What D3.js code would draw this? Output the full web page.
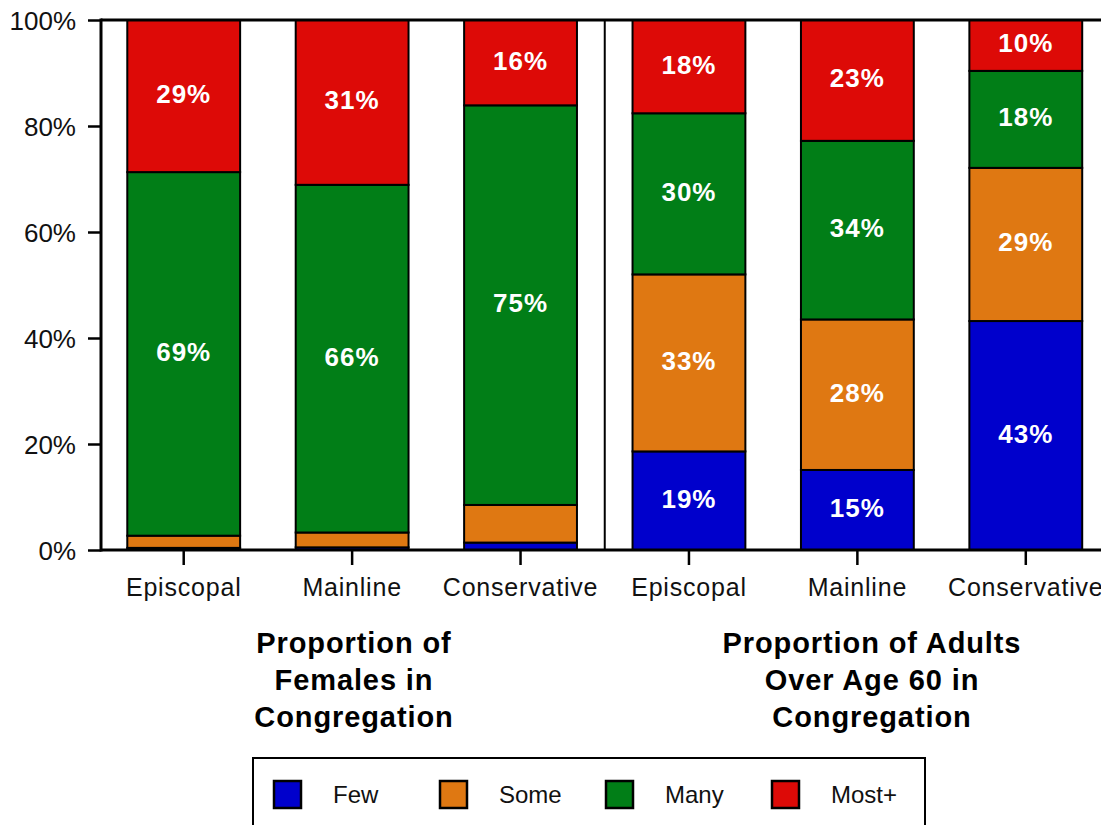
<!DOCTYPE html>
<html>
<head>
<meta charset="utf-8">
<script src="https://cdn.jsdelivr.net/npm/d3@7"></script>
<style>
  html, body { margin: 0; padding: 0; background: #fff; }
  svg { display: block; font-family: "Liberation Sans", Arial, sans-serif; }
</style>
</head>
<body>
<svg id="chart" width="1101" height="825"></svg>
<script>
// ---- data ----
const categories = ["Episcopal", "Mainline", "Conservative", "Episcopal", "Mainline", "Conservative"];
const groupTitles = [
  ["Proportion of", "Females in", "Congregation"],
  ["Proportion of Adults", "Over Age 60 in", "Congregation"]
];
const seriesNames = ["Few", "Some", "Many", "Most+"];
const seriesColors = ["#0000cc", "#df7812", "#017e17", "#dd0a07"];
const few  = [0.4, 0.5, 1.4, 18.6, 15.1, 43.2];
const some = [2.3, 2.8, 7.1, 33.4, 28.4, 28.9];
const many = [68.6, 65.6, 75.4, 30.4, 33.7, 18.3];
const most = [28.7, 31.1, 16.1, 17.6, 22.8, 9.6];
const yTicks = [0, 20, 40, 60, 80, 100];

// ---- setup ----
const svg = d3.select("#chart");
const W = 1101, H = 825;
const axisX = 101, plotTop = 20, plotBottom = 550;

const keys = categories.map((c, i) => String(i));
const x = d3.scaleBand().domain(keys).range([99.5, 1110]).paddingInner(0.33).paddingOuter(0.165);
const y = d3.scaleLinear().domain([0, 100]).range([plotBottom, plotTop]);

const rows = keys.map((k, i) => ({ key: k, Few: few[i], Some: some[i], Many: many[i], "Most+": most[i] }));
const stacked = d3.stack().keys(seriesNames)(rows);

// bars
const layers = svg.append("g").selectAll("g").data(stacked).join("g")
  .attr("fill", (d, i) => seriesColors[i]);
layers.selectAll("rect").data(d => d).join("rect")
  .attr("x", d => x(d.data.key))
  .attr("width", x.bandwidth())
  .attr("y", d => y(d[1]))
  .attr("height", d => y(d[0]) - y(d[1]))
  .attr("stroke", "#000")
  .attr("stroke-width", 2);

// value labels
layers.selectAll("text").data(d => d.filter(s => s[1] - s[0] > 9)).join("text")
  .attr("x", d => x(d.data.key) + x.bandwidth() / 2)
  .attr("y", d => y((d[0] + d[1]) / 2) + 7)
  .attr("text-anchor", "middle")
  .attr("fill", "#fff")
  .attr("font-weight", "bold")
  .attr("font-size", 26)
  .attr("letter-spacing", 1)
  .text(d => Math.round(d[1] - d[0]) + "%");

// separator between groups
const sepX = (x(keys[2]) + x.bandwidth() + x(keys[3])) / 2;
svg.append("line").attr("x1", sepX).attr("x2", sepX).attr("y1", plotTop).attr("y2", plotBottom)
  .attr("stroke", "#000").attr("stroke-width", 2);

// top frame line
svg.append("line").attr("x1", axisX).attr("x2", W).attr("y1", plotTop).attr("y2", plotTop)
  .attr("stroke", "#000").attr("stroke-width", 3);

// y axis
const yAxis = svg.append("g").attr("transform", `translate(${axisX},0)`)
  .call(d3.axisLeft(y).tickValues(yTicks).tickSize(13).tickPadding(12).tickFormat(d => d + "%"));
yAxis.select(".domain").attr("stroke", "#000").attr("stroke-width", 3).attr("d", `M0,${plotTop - 1.5}V${plotBottom + 1.5}`);
yAxis.selectAll(".tick line").attr("stroke", "#000").attr("stroke-width", 2.5);
yAxis.selectAll(".tick text").attr("font-size", 26).attr("fill", "#111")
  .attr("font-family", "Liberation Sans, Arial, sans-serif").attr("dy", "0.36em");

// x axis
const xAxis = svg.append("g").attr("transform", `translate(0,${plotBottom})`)
  .call(d3.axisBottom(x).tickSize(15).tickPadding(8).tickFormat((d, i) => categories[i]));
xAxis.select(".domain").attr("stroke", "#000").attr("stroke-width", 3).attr("d", `M${axisX},0H${W}`);
xAxis.selectAll(".tick line").attr("stroke", "#000").attr("stroke-width", 2.5);
xAxis.selectAll(".tick text").attr("font-size", 25).attr("fill", "#111")
  .attr("letter-spacing", 0.8)
  .attr("font-family", "Liberation Sans, Arial, sans-serif").attr("dy", "0.9em");

// group titles
const titleCenters = [354, 872];
groupTitles.forEach((lines, gi) => {
  const t = svg.append("text").attr("text-anchor", "middle")
    .attr("font-weight", "bold").attr("font-size", 29).attr("letter-spacing", 0.9).attr("fill", "#000");
  lines.forEach((ln, li) => {
    t.append("tspan").attr("x", titleCenters[gi]).attr("y", 653 + li * 37).text(ln);
  });
});

// legend
const legend = svg.append("g");
legend.append("rect").attr("x", 253).attr("y", 758).attr("width", 672).attr("height", 100)
  .attr("fill", "#fff").attr("stroke", "#000").attr("stroke-width", 2);
const item = legend.selectAll("g.item").data(seriesNames).join("g").attr("class", "item")
  .attr("transform", (d, i) => `translate(${274 + i * 166},781)`);
item.append("rect").attr("width", 27).attr("height", 27)
  .attr("fill", (d, i) => seriesColors[i]).attr("stroke", "#000").attr("stroke-width", 2.5);
item.append("text").attr("x", 59).attr("y", 22).attr("font-size", 24).attr("fill", "#111").text(d => d);
</script>
</body>
</html>
